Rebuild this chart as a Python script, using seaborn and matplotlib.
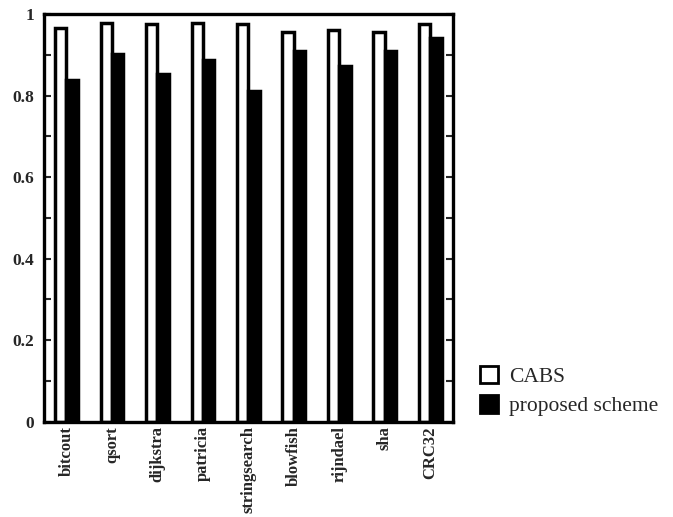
import matplotlib
matplotlib.use("Agg")
import matplotlib.pyplot as plt
import seaborn as sns
import pandas as pd
from matplotlib.patches import Patch
from matplotlib.ticker import MultipleLocator

benchmarks = ["bitcout", "qsort", "dijkstra", "patricia", "stringsearch",
              "blowfish", "rijndael", "sha", "CRC32"]
cabs = [0.966, 0.978, 0.976, 0.978, 0.975, 0.955, 0.960, 0.955, 0.975]
proposed = [0.838, 0.902, 0.853, 0.888, 0.811, 0.910, 0.873, 0.908, 0.942]
series_names = ["CABS", "proposed scheme"]
yticks = [0, 0.2, 0.4, 0.6, 0.8, 1.0]

df = pd.DataFrame({
    "benchmark": benchmarks * 2,
    "value": cabs + proposed,
    "scheme": [series_names[0]] * len(benchmarks) + [series_names[1]] * len(benchmarks),
})

sns.set_style("white")
plt.rcParams["font.family"] = ["Liberation Serif"]

fig = plt.figure(figsize=(6.73, 5.17), dpi=100)
ax = fig.add_axes([0.065, 0.184, 0.608, 0.789])

sns.barplot(data=df, x="benchmark", y="value", hue="scheme", order=benchmarks,
            hue_order=series_names, palette=["white", "black"], width=0.5,
            edgecolor="black", linewidth=2.5, saturation=1, legend=False, ax=ax,
            errorbar=None)

ax.set_xlim(-0.5, len(benchmarks) - 0.5)
ax.set_ylim(0, 1)
ax.set_yticks(yticks)
ax.set_yticklabels([f"{t:g}" for t in yticks], fontsize=12.5, fontweight="bold")
ax.yaxis.set_minor_locator(MultipleLocator(0.1))
ax.set_xticks(range(len(benchmarks)))
ax.set_xticklabels(benchmarks, rotation=90, fontsize=12, fontweight="bold")
ax.set_xlabel("")
ax.set_ylabel("")

for s in ax.spines.values():
    s.set_visible(True)
    s.set_linewidth(2.4)
    s.set_color("black")
ax.tick_params(axis="y", which="both", direction="in", length=5, width=1.5,
               left=True, right=True, pad=7)
ax.tick_params(axis="x", length=0, pad=3)

handles = [Patch(facecolor="white", edgecolor="black", linewidth=2),
           Patch(facecolor="black", edgecolor="black", linewidth=2)]
fig.legend(handles, series_names, loc="upper left", bbox_to_anchor=(0.684, 0.33),
           frameon=False, handlelength=0.85, handleheight=0.85, handletextpad=0.5,
           labelspacing=0.4, prop={"family": "Liberation Serif", "size": 15.5})

fig.savefig("out.png", dpi=100)
